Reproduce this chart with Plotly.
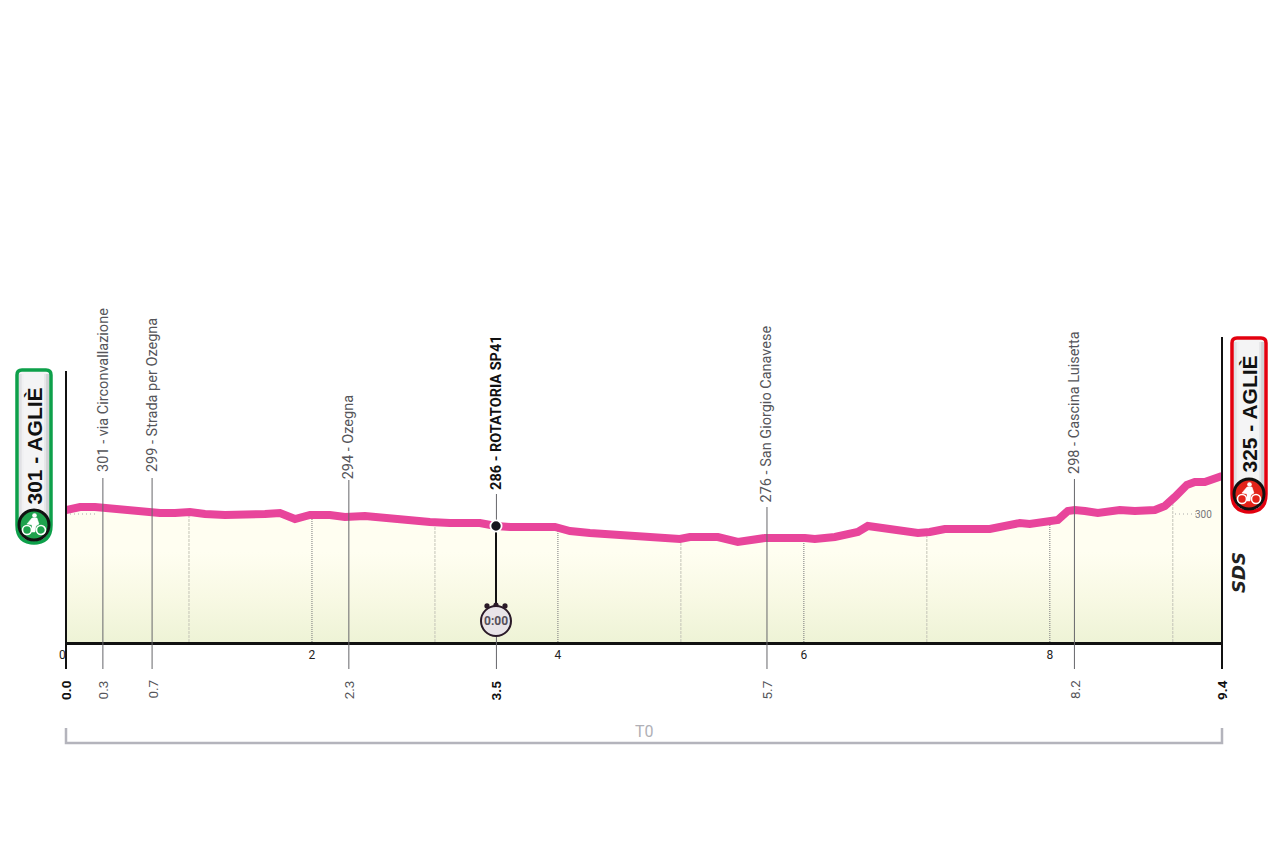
import numpy as np
import plotly.graph_objects as go

# ---- data ----
profile_km = [0, .114, .236, .317, .439, .561, .683, .764, .886, 1.008, 1.13, 1.293, 1.618, 1.74, 1.862, 1.984,
              2.146, 2.268, 2.431, 2.593, 2.715, 2.837, 2.959, 3.122, 3.366, 3.496, 3.61, 3.976, 4.098, 4.26,
              4.504, 4.748, 4.87, 4.992, 5.073, 5.301, 5.463, 5.561, 5.683, 6.008, 6.089, 6.252, 6.374, 6.439,
              6.52, 6.618, 6.78, 6.927, 7.024, 7.146, 7.512, 7.634, 7.756, 7.837, 8.0, 8.065, 8.146, 8.203,
              8.285, 8.39, 8.569, 8.691, 8.854, 8.935, 9.016, 9.114, 9.179, 9.26, 9.4]
profile_m = [304, 307, 307, 306, 306, 303, 303, 301, 301, 302, 300, 299, 300, 301, 295, 299,
             299, 297, 298, 296, 294, 294, 292, 291, 291, 288, 287, 287, 283, 281,
             279, 277, 275, 275, 277, 277, 272, 273, 276, 276, 275, 277, 281, 282,
             288, 286, 283, 281, 282, 285, 285, 288, 291, 290, 292, 294, 303, 304,
             303, 301, 304, 303, 304, 308, 317, 329, 332, 332, 338]
way_km = [0.3, 0.7, 2.3, 3.5, 5.7, 8.2]
way_text = ["301 - via Circonvallazione", "299 - Strada per Ozegna", "294 - Ozegna",
            "286 - ROTATORIA SP41", "276 - San Giorgio Canavese", "298 - Cascina Luisetta"]
way_km_text = ["0.3", "0.7", "2.3", "3.5", "5.7", "8.2"]
start_text = "301 - AGLIÈ"
finish_text = "325 - AGLIÈ"
even_km = [2, 4, 6, 8]
odd_km = [1, 3, 5, 7, 9]

# ---- layout constants ----
W, H = 1280, 852
L, R, T, B = 66, 58, 300, 210
PW, PH = W - L - R, H - T - B
Y0 = 172
Y1 = Y0 + PH
NARROW = "Roboto, sans-serif"
GREY = "#55555a"
way_stem_top = [478, 478, 480, 494, 507, 479]
way_label_bottom = [474, 474, 481, 492, 504, 476]


def xp(px):
    return (px - L) / PW


def yp(py):
    return (H - B - py) / PH


def kx(px):
    return (px - L) / PW * 9.4


shapes, anns = [], []


def add_line(x0, y0, x1, y1, color, width, dash="solid", layer="above"):
    shapes.append(dict(type="line", xref="paper", yref="paper", x0=xp(x0), x1=xp(x1), y0=yp(y0), y1=yp(y1),
                       line=dict(color=color, width=width, dash=dash), layer=layer))


def add_circle(cx, cy, r, fill, line="rgba(0,0,0,0)", width=0):
    shapes.append(dict(type="circle", xref="paper", yref="paper", x0=xp(cx - r), x1=xp(cx + r),
                       y0=yp(cy + r), y1=yp(cy - r), fillcolor=fill, line=dict(color=line, width=width), layer="above"))


def path(points):
    out = []
    for p in points:
        if isinstance(p, str):
            out.append(p)
        else:
            out.append(f"{xp(p[0]):.5f},{yp(p[1]):.5f}")
    return " ".join(out)


def add_path(tokens, fill, line, width):
    shapes.append(dict(type="path", xref="paper", yref="paper", path=path(tokens), fillcolor=fill,
                       line=dict(color=line, width=width), layer="above"))


def rounded(x0, y0, x1, y1, rt, rb):
    pts = ["M", (x0, y0 + rt), "Q", (x0, y0), (x0 + rt, y0), "L", (x1 - rt, y0), "Q", (x1, y0), (x1, y0 + rt),
           "L", (x1, y1 - rb), "Q", (x1, y1), (x1 - rb, y1), "L", (x0 + rb, y1), "Q", (x0, y1), (x0, y1 - rb), "Z"]
    return pts


def badge(x0, y0, x1, y1, color, inner, text, text_bottom):
    cx = (x0 + x1) / 2
    cy = y1 - 18
    add_path(rounded(x0, y0, x1, y1, 5, 18), "#f4f4f5", color, 3.5)
    for i, c in enumerate(["#d9d9dc", "#e6e6e8", "#f1f1f2"]):
        add_line(x0 + 3 + i * 1.5, y0 + 4, x0 + 3 + i * 1.5, y1 - 12, c, 1.5)
    for i, c in enumerate(["#c4c4c8", "#d4d4d7", "#e4e4e6"]):
        add_line(x1 - 3 - i * 1.5, y0 + 4, x1 - 3 - i * 1.5, y1 - 12, c, 1.5)
    add_circle(cx, cy, 15, inner, "#111111", 3)
    add_circle(cx - 7, cy + 5, 4.5, "rgba(0,0,0,0)", "white", 1.6)
    add_circle(cx + 7, cy + 5, 4.5, "rgba(0,0,0,0)", "white", 1.6)
    add_circle(cx + 0.5, cy - 9.5, 2.3, "white")
    add_path(["M", (cx - 7, cy - 1), "L", (cx - 2, cy - 7), "L", (cx + 3, cy - 7), "L", (cx + 5, cy - 1),
              "L", (cx + 2, cy + 1), "L", (cx + 1, cy + 7), "L", (cx - 2, cy + 7), "L", (cx - 2, cy), "Z"],
             "white", "white", 0.5)
    anns.append(dict(text=f"<b>{text}</b>", xref="paper", yref="paper", x=xp(cx), y=yp(text_bottom),
                     xanchor="center", yanchor="bottom", textangle=-90, showarrow=False,
                     font=dict(family="Liberation Sans, Arial, sans-serif", size=21, color="#111111")))


# axes extending beyond the plot
add_line(66, 371, 66, 669, "#111111", 2)
add_line(1222, 337, 1222, 669, "#111111", 2)

# waypoints
for km, label, kmt, top, bot in zip(way_km, way_text, way_km_text, way_stem_top, way_label_bottom):
    main = km == 3.5
    shapes.append(dict(type="line", xref="x", yref="paper", x0=km, x1=km, y0=yp(669), y1=yp(top),
                       line=dict(color="#66666a", width=1), layer="above"))
    txt = f"<b>{label}</b>" if main else label
    anns.append(dict(text=txt, xref="x", yref="paper", x=km, y=yp(bot), xanchor="center", yanchor="bottom",
                     textangle=-90, showarrow=False,
                     font=dict(family=NARROW, size=14.5, color="#111111" if main else GREY)))
    ktxt = f"<b>{kmt}</b>" if main else kmt
    anns.append(dict(text=ktxt, xref="x", yref="paper", x=km, y=yp(678), xanchor="center", yanchor="top",
                     textangle=-90, showarrow=False,
                     font=dict(family=NARROW, size=13.5, color="#111111" if main else GREY)))

for km, txt in [(0, "0.0"), (9.4, "9.4")]:
    anns.append(dict(text=f"<b>{txt}</b>", xref="x", yref="paper", x=km, y=yp(678), xanchor="center", yanchor="top",
                     textangle=-90, showarrow=False, font=dict(family=NARROW, size=13.5, color="#111111")))

anns.append(dict(text="0", xref="x", yref="paper", x=0, xshift=-4, y=yp(646), xanchor="center", yanchor="top",
                 showarrow=False, font=dict(family=NARROW, size=12, color="#222222")))
anns.append(dict(text="300", xref="x", yref="y", x=9.4, xshift=-8, y=300, xanchor="right", yanchor="middle",
                 showarrow=False, font=dict(family=NARROW, size=10, color="#77777a")))
anns.append(dict(text="T0", xref="paper", yref="paper", x=xp(644), y=yp(731), xanchor="center", yanchor="middle",
                 showarrow=False, font=dict(family=NARROW, size=16, color="#b0b0b6")))
anns.append(dict(text="<b><i>SDS</i></b>", xref="paper", yref="paper", x=xp(1238), y=yp(573), xanchor="center",
                 yanchor="middle", textangle=-90, showarrow=False,
                 font=dict(family="DejaVu Sans, sans-serif", size=18, color="#222222")))

# bracket
add_path(["M", (66, 728), "L", (66, 743), "L", (1222, 743), "L", (1222, 728)], "rgba(0,0,0,0)", "#b4b4bc", 2.5)

# stopwatch
add_line(496, 526, 496, 606, "#111111", 2)
add_circle(496, 526, 6.5, "white")
add_circle(496, 526, 4.7, "#15151c")
for dx in (-9, 0, 9):
    add_circle(496 + dx, 605 + abs(dx) * 0.1, 2.6, "#2a1a28")
add_circle(496, 621, 15, "#e8e4e8", "#2a1a28", 2)
anns.append(dict(text="<b>0:00</b>", xref="x", yref="paper", x=3.5, y=yp(621), xanchor="center", yanchor="middle",
                 showarrow=False, font=dict(family=NARROW, size=12, color="#55505a")))

# start / finish badges
badge(17, 370, 51, 543, "#0da04a", "#1fa24d", start_text, 507)
badge(1232, 338, 1266, 512, "#e3000f", "#e2231a", finish_text, 475)

even_x, even_y, odd_x, odd_y = [], [], [], []
for km in even_km:
    even_x += [km, km, None]
    even_y += [Y0, float(np.interp(km, profile_km, profile_m)), None]
for km in odd_km:
    odd_x += [km, km, None]
    odd_y += [Y0, float(np.interp(km, profile_km, profile_m)), None]

fig = go.Figure()
fig.add_trace(go.Scatter(x=[0] + profile_km + [9.4], y=[Y0] + profile_m + [Y0], mode="none", fill="toself",
                         fillgradient=dict(type="vertical", start=Y0, stop=Y0 + 90,
                                           colorscale=[[0, "#eef3d6"], [0.5, "#f8f9e4"], [1, "#fffef1"]]),
                         hoverinfo="skip", showlegend=False))
fig.add_trace(go.Scatter(x=odd_x, y=odd_y, mode="lines", line=dict(color="#c4c4b8", width=1, dash="3px,1px"),
                         hoverinfo="skip", showlegend=False))
fig.add_trace(go.Scatter(x=even_x, y=even_y, mode="lines", line=dict(color="#77777a", width=1, dash="1px,1px"),
                         hoverinfo="skip", showlegend=False))
fig.add_trace(go.Scatter(x=[0, kx(96), None, kx(1175), kx(1198)], y=[300, 300, None, 300, 300], mode="lines",
                         line=dict(color="#aaaaaa", width=1, dash="1px,3px"), hoverinfo="skip", showlegend=False))
fig.add_trace(go.Scatter(x=profile_km, y=profile_m, mode="lines", cliponaxis=False,
                         line=dict(color="#e8459b", width=8, shape="linear"), showlegend=False))

fig.update_layout(
    width=W, height=H, autosize=False,
    margin=dict(l=L, r=R, t=T, b=B), paper_bgcolor="white", plot_bgcolor="rgba(0,0,0,0)", showlegend=False,
    shapes=shapes, annotations=anns,
    xaxis=dict(range=[0, 9.4], tickvals=even_km, ticktext=[str(k) for k in even_km], showgrid=False, zeroline=False,
               showline=True, linecolor="#111111", linewidth=2.5, ticks="", anchor="y", mirror=False,
               tickfont=dict(family=NARROW, size=12, color="#222222")),
    yaxis=dict(range=[Y0, Y1], visible=False, showgrid=False, zeroline=False),
)
fig.write_html("out.html", config={"displayModeBar": False},
               post_script="document.body.style.margin='0';document.body.style.overflow='hidden';")
